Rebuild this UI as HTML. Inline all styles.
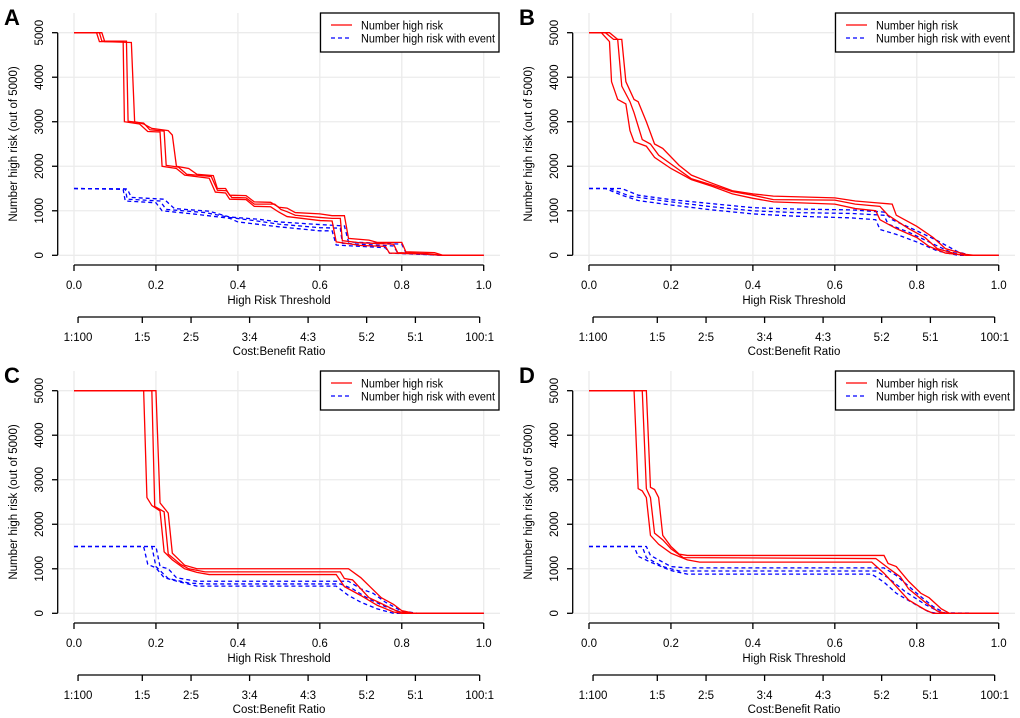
<!DOCTYPE html>
<html><head><meta charset="utf-8"><style>
html,body{margin:0;padding:0;background:#fff}
svg{display:block;font-family:"Liberation Sans",sans-serif}
</style></head><body>
<svg id="chart" width="1020" height="718" viewBox="0 0 1020 718"></svg>
<script>
// ---------- data ----------
const xTicks = [0, 0.2, 0.4, 0.6, 0.8, 1.0];
const xTickLabels = ["0.0","0.2","0.4","0.6","0.8","1.0"];
const yTicks = [0, 1000, 2000, 3000, 4000, 5000];
const yTickLabels = ["0","1000","2000","3000","4000","5000"];
const cbLabels = ["1:100","1:5","2:5","3:4","4:3","5:2","5:1","100:1"];
const cbThresholds = [0.0099, 0.1667, 0.2857, 0.4286, 0.5714, 0.7143, 0.8333, 0.9901];
const panelLetters = ["A","B","C","D"];

const redA = [
 [[0,5000],[0.055,5000],[0.062,4800],[0.12,4800],[0.123,3000],[0.16,2950],[0.18,2780],[0.21,2770],[0.215,2000],[0.25,1950],[0.27,1800],[0.33,1730],[0.345,1420],[0.37,1400],[0.38,1260],[0.42,1250],[0.44,1100],[0.48,1090],[0.5,970],[0.52,870],[0.6,780],[0.63,770],[0.64,300],[0.7,220],[0.76,200],[0.77,50],[0.85,30],[0.9,0],[1,0]],
 [[0,5000],[0.062,5000],[0.068,4810],[0.128,4810],[0.132,3010],[0.17,2970],[0.185,2820],[0.22,2790],[0.225,2020],[0.255,1980],[0.275,1820],[0.335,1770],[0.35,1460],[0.372,1450],[0.385,1300],[0.42,1290],[0.44,1150],[0.49,1150],[0.505,1030],[0.52,980],[0.54,900],[0.6,850],[0.63,830],[0.65,830],[0.655,330],[0.7,280],[0.78,250],[0.79,60],[0.86,40],[0.9,0],[1,0]],
 [[0,5000],[0.068,5000],[0.075,4800],[0.14,4780],[0.148,3000],[0.17,2950],[0.19,2850],[0.23,2800],[0.24,2700],[0.25,2000],[0.28,1950],[0.3,1820],[0.34,1790],[0.35,1500],[0.37,1500],[0.38,1350],[0.42,1340],[0.44,1200],[0.48,1190],[0.5,1080],[0.52,1060],[0.54,960],[0.6,930],[0.63,890],[0.66,890],[0.67,380],[0.72,340],[0.74,290],[0.8,290],[0.81,80],[0.88,60],[0.9,0],[1,0]]
];
const blueA = [
 [[0,1500],[0.12,1480],[0.125,1220],[0.2,1180],[0.215,1000],[0.3,920],[0.38,830],[0.4,750],[0.5,640],[0.6,550],[0.63,550],[0.64,230],[0.76,170],[0.77,50],[0.9,0],[1,0]],
 [[0,1500],[0.125,1490],[0.13,1260],[0.21,1220],[0.225,1030],[0.32,960],[0.38,850],[0.44,780],[0.5,700],[0.6,620],[0.65,610],[0.655,270],[0.78,210],[0.79,55],[0.9,0],[1,0]],
 [[0,1500],[0.13,1490],[0.14,1300],[0.22,1260],[0.245,1050],[0.33,990],[0.38,860],[0.45,810],[0.5,750],[0.6,690],[0.66,660],[0.67,300],[0.8,250],[0.81,60],[0.9,0],[1,0]]
];
const redB = [
 [[0,5000],[0.03,5000],[0.05,4800],[0.055,3900],[0.07,3500],[0.09,3400],[0.1,2800],[0.11,2550],[0.14,2450],[0.16,2200],[0.2,1950],[0.25,1700],[0.3,1550],[0.35,1380],[0.4,1280],[0.45,1200],[0.6,1150],[0.65,1050],[0.7,1000],[0.71,800],[0.75,600],[0.8,400],[0.83,200],[0.87,50],[0.92,0],[1,0]],
 [[0,5000],[0.04,5000],[0.06,4850],[0.07,4850],[0.08,3800],[0.1,3450],[0.11,3200],[0.13,2600],[0.15,2500],[0.17,2250],[0.2,2050],[0.25,1720],[0.3,1580],[0.35,1430],[0.4,1350],[0.45,1250],[0.6,1240],[0.65,1150],[0.71,1100],[0.73,900],[0.78,600],[0.82,400],[0.85,150],[0.9,20],[0.93,0],[1,0]],
 [[0,5000],[0.05,5000],[0.07,4850],[0.08,4850],[0.09,3900],[0.11,3500],[0.12,3450],[0.14,3000],[0.16,2500],[0.18,2400],[0.22,2020],[0.25,1800],[0.3,1620],[0.35,1450],[0.4,1380],[0.45,1330],[0.6,1290],[0.65,1220],[0.7,1180],[0.74,1150],[0.75,900],[0.8,650],[0.84,400],[0.87,150],[0.92,20],[0.94,0],[1,0]]
];
const blueB = [
 [[0,1500],[0.04,1500],[0.08,1350],[0.12,1230],[0.2,1130],[0.3,1020],[0.4,930],[0.5,880],[0.64,840],[0.7,800],[0.71,580],[0.75,470],[0.8,300],[0.85,100],[0.9,0],[1,0]],
 [[0,1500],[0.05,1500],[0.1,1330],[0.2,1200],[0.3,1090],[0.4,1000],[0.5,960],[0.64,940],[0.72,900],[0.73,700],[0.78,520],[0.83,300],[0.88,80],[0.92,0],[1,0]],
 [[0,1500],[0.08,1500],[0.12,1350],[0.2,1250],[0.3,1160],[0.4,1070],[0.5,1040],[0.64,1020],[0.72,970],[0.74,800],[0.8,550],[0.85,330],[0.9,80],[0.93,0],[1,0]]
];
const redC = [
 [[0,5000],[0.17,5000],[0.178,2600],[0.19,2420],[0.21,2300],[0.22,1380],[0.24,1200],[0.27,1000],[0.3,920],[0.33,870],[0.64,870],[0.66,600],[0.7,400],[0.74,180],[0.78,30],[0.8,0],[1,0]],
 [[0,5000],[0.19,5000],[0.197,2400],[0.22,2280],[0.23,1330],[0.26,1100],[0.28,1000],[0.32,930],[0.65,930],[0.66,780],[0.68,750],[0.72,350],[0.75,220],[0.79,40],[0.82,0],[1,0]],
 [[0,5000],[0.2,5000],[0.21,2480],[0.23,2250],[0.24,1350],[0.27,1080],[0.3,1000],[0.67,1000],[0.7,800],[0.72,620],[0.75,350],[0.78,200],[0.8,60],[0.83,0],[1,0]]
];
const blueC = [
 [[0,1500],[0.17,1500],[0.18,1100],[0.2,1020],[0.22,800],[0.26,700],[0.3,610],[0.64,610],[0.67,400],[0.7,250],[0.74,100],[0.78,0],[1,0]],
 [[0,1500],[0.19,1500],[0.2,1050],[0.23,780],[0.28,680],[0.32,660],[0.65,660],[0.68,550],[0.72,320],[0.76,150],[0.8,20],[0.82,0],[1,0]],
 [[0,1500],[0.2,1500],[0.21,1050],[0.23,1000],[0.25,800],[0.28,750],[0.3,720],[0.67,720],[0.7,550],[0.73,450],[0.76,250],[0.8,50],[0.84,0],[1,0]]
];
const redD = [
 [[0,5000],[0.11,5000],[0.12,2800],[0.13,2750],[0.14,2600],[0.15,1750],[0.17,1550],[0.2,1350],[0.24,1200],[0.27,1150],[0.69,1150],[0.72,900],[0.75,600],[0.78,300],[0.82,80],[0.84,0],[1,0]],
 [[0,5000],[0.13,5000],[0.14,2800],[0.15,2600],[0.16,1800],[0.18,1650],[0.2,1450],[0.23,1250],[0.7,1230],[0.73,1020],[0.76,820],[0.78,550],[0.82,250],[0.85,50],[0.87,0],[1,0]],
 [[0,5000],[0.14,5000],[0.15,2830],[0.16,2780],[0.17,2600],[0.18,1750],[0.2,1500],[0.22,1330],[0.24,1300],[0.72,1300],[0.73,1120],[0.75,1050],[0.78,720],[0.81,450],[0.83,350],[0.86,100],[0.88,0],[1,0]]
];
const blueD = [
 [[0,1500],[0.11,1500],[0.12,1280],[0.15,1150],[0.2,960],[0.24,880],[0.69,880],[0.72,700],[0.75,450],[0.8,180],[0.83,30],[0.85,0],[1,0]],
 [[0,1500],[0.13,1500],[0.14,1250],[0.18,1050],[0.22,950],[0.7,950],[0.73,800],[0.77,500],[0.82,200],[0.86,10],[1,0]],
 [[0,1500],[0.14,1500],[0.15,1300],[0.2,1050],[0.24,1020],[0.72,1020],[0.75,850],[0.8,450],[0.84,150],[0.87,0],[1,0]]
];
const redSets = [redA, redB, redC, redD];
const blueSets = [blueA, blueB, blueC, blueD];

// ---------- drawing ----------
const NS = "http://www.w3.org/2000/svg";
const svg = document.getElementById("chart");
function mk(tag, attrs, parent, text) {
  const e = document.createElementNS(NS, tag);
  for (const k in attrs) e.setAttribute(k, attrs[k]);
  if (text !== undefined) e.textContent = text;
  parent.appendChild(e);
  return e;
}
const offsets = [[0,0],[515,0],[0,358],[515,358]];

offsets.forEach((off, pi) => {
  const ox = off[0], oy = off[1];
  const g = mk("g", {}, svg);
  
  
  const X = v => ox + 74 + v * 409.7;
  const Y = v => oy + 255.3 - v / 5000 * 222.6;

  const grid = mk("g", {stroke: "#ebebeb", "stroke-width": 1.3}, g);
  
  
  xTicks.forEach(t => mk("line", {x1: X(t), x2: X(t), y1: oy + 13, y2: oy + 263}, grid));
  yTicks.forEach(t => mk("line", {x1: ox + 59, x2: ox + 500, y1: Y(t), y2: Y(t)}, grid));

  const ya = mk("g", {stroke: "#000", "stroke-width": 1.3}, g);
  
  
  mk("line", {x1: ox + 57.7, x2: ox + 57.7, y1: Y(5000), y2: Y(0)}, ya);
  yTicks.forEach((t, i) => {
    mk("line", {x1: ox + 52, x2: ox + 57.7, y1: Y(t), y2: Y(t)}, ya);
    const tx = mk("text", {x: 0, y: 0, transform: `translate(${ox + 43},${Y(t)}) rotate(-90)`, "text-anchor": "middle", "font-size": 11.5, fill: "#000", stroke: "none"}, ya, yTickLabels[i]);
    
    
  });
  const yt = mk("text", {transform: `translate(${ox + 17},${oy + 144}) rotate(-90)`, "text-anchor": "middle", "font-size": 11.5, fill: "#000"}, g, "Number high risk (out of 5000)");
  
  

  const xa = mk("g", {stroke: "#000", "stroke-width": 1.3}, g);
  
  
  mk("line", {x1: X(0), x2: X(1), y1: oy + 265, y2: oy + 265}, xa);
  xTicks.forEach((t, i) => {
    mk("line", {x1: X(t), x2: X(t), y1: oy + 265, y2: oy + 271}, xa);
    const tx = mk("text", {x: X(t), y: oy + 289, "text-anchor": "middle", "font-size": 11.5, fill: "#000", stroke: "none"}, xa, xTickLabels[i]);
    
    
  });
  const xt = mk("text", {x: ox + 279, y: oy + 304, "text-anchor": "middle", "font-size": 11.5, fill: "#000"}, g, "High Risk Threshold");
  
  

  const cb = mk("g", {stroke: "#000", "stroke-width": 1.3}, g);
  
  
  mk("line", {x1: X(cbThresholds[0]), x2: X(cbThresholds[cbThresholds.length - 1]), y1: oy + 317, y2: oy + 317}, cb);
  cbThresholds.forEach((t, i) => {
    mk("line", {x1: X(t), x2: X(t), y1: oy + 317, y2: oy + 323}, cb);
    const tx = mk("text", {x: X(t), y: oy + 341, "text-anchor": "middle", "font-size": 11.5, fill: "#000", stroke: "none"}, cb, cbLabels[i]);
    
    
  });
  const ct = mk("text", {x: ox + 279, y: oy + 355, "text-anchor": "middle", "font-size": 11.5, fill: "#000"}, g, "Cost:Benefit Ratio");
  
  

  blueSets[pi].forEach(s => {
    const p = mk("polyline", {points: s.map(d => X(d[0]) + "," + Y(d[1])).join(" "), fill: "none", stroke: "#0000ff", "stroke-width": 1.3, "stroke-dasharray": "4,3"}, g);
    
    
  });
  redSets[pi].forEach(s => {
    const p = mk("polyline", {points: s.map(d => X(d[0]) + "," + Y(d[1])).join(" "), fill: "none", stroke: "#ff0000", "stroke-width": 1.3}, g);
    
    
  });

  const lg = mk("g", {}, g);
  
  
  mk("rect", {x: ox + 320.5, y: oy + 13, width: 178.5, height: 39, fill: "#fff", stroke: "#000", "stroke-width": 1.3}, lg);
  mk("line", {x1: ox + 331, x2: ox + 352, y1: oy + 25, y2: oy + 25, stroke: "#ff0000", "stroke-width": 1.3}, lg);
  mk("line", {x1: ox + 331, x2: ox + 352, y1: oy + 38, y2: oy + 38, stroke: "#0000ff", "stroke-width": 1.3, "stroke-dasharray": "4,3"}, lg);
  const l1 = mk("text", {x: ox + 361, y: oy + 29.5, "font-size": 11.5, fill: "#000", textLength: 82, lengthAdjust: "spacingAndGlyphs"}, lg, "Number high risk");
  
  
  const l2 = mk("text", {x: ox + 361, y: oy + 42.5, "font-size": 11.5, fill: "#000", textLength: 134, lengthAdjust: "spacingAndGlyphs"}, lg, "Number high risk with event");
  
  

  const pl = mk("text", {x: ox + 4, y: oy + 25, "font-size": 22, "font-weight": "bold", fill: "#000"}, g, panelLetters[pi]);
  
  
});
</script>
</body></html>
